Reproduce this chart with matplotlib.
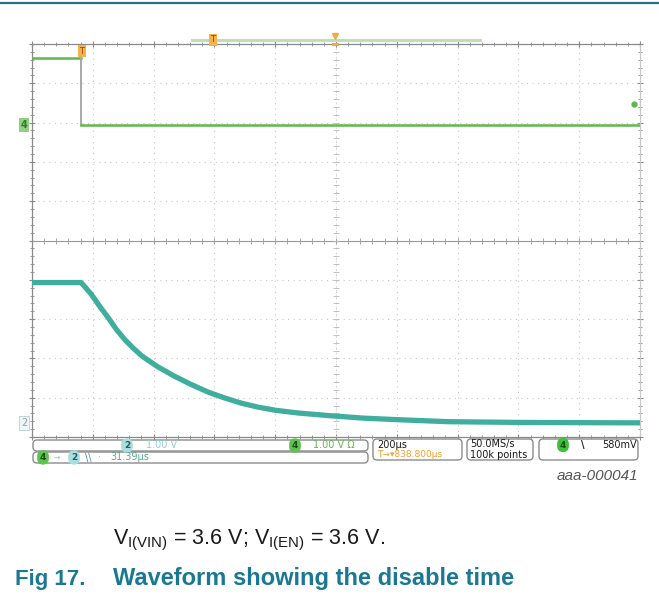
import numpy as np
import matplotlib
matplotlib.use("Agg")
import matplotlib.pyplot as plt
from matplotlib.patches import FancyBboxPatch, Rectangle

# ---------------- data ----------------
time_per_div_us = 200.0
trigger_delay_us = 838.8
ch2_volts_per_div = 1.0
ch4_volts_per_div = 1.0
ch2_offset_div = -4.64     # ground marker position (divisions from centre)
ch4_offset_div = 2.94

# channel 4 (EN) - green
ch4_t_us = [-161.2, 0.0, 0.0, 1838.8]
ch4_v = [1.70, 1.70, 0.0, 0.0]

# channel 2 (VOUT) - cyan, decay after disable
ch2_t_us = [-161.2, -60.0, 0.0, 13.0, 35.0, 62.0, 90.0, 117.0, 145.0, 172.0, 199.0,
            227.0, 254.0, 309.0, 364.0, 419.0, 474.0, 528.0, 582.0, 640.0, 715.0,
            822.0, 930.0, 1043.0, 1207.0, 1450.0, 1838.8]
ch2_v = [3.57, 3.57, 3.57, 3.46, 3.26, 2.96, 2.67, 2.37, 2.11, 1.90, 1.71,
         1.56, 1.42, 1.18, 0.97, 0.78, 0.63, 0.50, 0.40, 0.32, 0.25,
         0.18, 0.12, 0.08, 0.03, 0.01, 0.0]

status_ch2 = "1.00 V"
status_ch4 = "1.00 V \u03a9"
meas_value = "31.39\u00b5s"
timebase_txt = "200\u00b5s"
delay_txt = "838.800\u00b5s"
rate_txt = "50.0MS/s"
points_txt = "100k points"
trig_level_txt = "580mV"
fig_id = "aaa-000041"

W, H = 659, 601
fig = plt.figure(figsize=(W / 100, H / 100), dpi=100)
fig.patch.set_facecolor("white")

def fx(px):
    return px / W

def fy(py):
    return 1 - py / H

# ---------------- scope axes ----------------
L, R, T, B = 32, 640, 44, 437
ax = fig.add_axes([fx(L), fy(B), fx(R - L), (B - T) / H])
center = trigger_delay_us
ax.set_xlim(center - 5 * time_per_div_us, center + 5 * time_per_div_us)
ax.set_ylim(-5, 5)
ax.set_facecolor("white")

major_x = center + time_per_div_us * np.arange(-5, 6)
minor_x = center + time_per_div_us / 5 * np.arange(-25, 26)
ax.set_xticks(major_x)
ax.set_xticks(minor_x, minor=True)
ax.set_yticks(np.arange(-5, 6))
ax.set_yticks(np.arange(-5, 5.01, 0.2), minor=True)
ax.set_xticklabels([])
ax.set_yticklabels([])
ax.tick_params(which="both", direction="inout", top=True, right=True, color="#8a8a8a")
ax.tick_params(which="major", length=5, width=0.8)
ax.tick_params(which="minor", length=3, width=0.6)
ax.grid(which="major", ls=(0, (1, 4)), color="#c8c8c8", lw=0.8)
for s in ax.spines.values():
    s.set_color("#8a8a8a")
    s.set_linewidth(0.9)
ax.spines["right"].set_color("#c8c8c8")

# centre crosshair with minor ticks
ax.axhline(0, color="#9a9a9a", lw=0.8)
ax.axvline(center, color="#dadada", lw=0.6, ls=(0, (2, 3)))
ax.plot(minor_x, np.zeros_like(minor_x), ls="none", marker="|", ms=4, color="#9a9a9a", mew=0.6)
ax.plot(np.full(51, center), np.arange(-5, 5.01, 0.2), ls="none", marker="_", ms=4,
        color="#b8b8b8", mew=0.6)

# traces
ch2_y = np.array(ch2_v) / ch2_volts_per_div + ch2_offset_div
ch4_y = np.array(ch4_v) / ch4_volts_per_div + ch4_offset_div
ax.plot(ch2_t_us, ch2_y, color="#3fae9f", lw=3.8, solid_capstyle="butt",
        solid_joinstyle="round", zorder=5)
ax.plot(ch4_t_us[:2], ch4_y[:2], color="#5db94a", lw=1.8, zorder=6)
ax.plot(ch4_t_us[1:3], ch4_y[1:3], color="#a8a8a8", lw=1.4, zorder=6)
ax.plot(ch4_t_us[2:], ch4_y[2:], color="#5db94a", lw=1.8, zorder=6)

# ---------------- overlay for annotations (pixel coords) ----------------
ov = fig.add_axes([0, 0, 1, 1], facecolor="none")
ov.set_xlim(0, W)
ov.set_ylim(H, 0)
ov.axis("off")

# trigger marker at top of graticule
ov.text(82, 51, "T", ha="center", va="center", fontsize=6, color="#8a4a00",
        bbox=dict(boxstyle="square,pad=0.2", fc="#f6b24a", ec="none"), zorder=7)

# page rule
ov.plot([0, W], [3, 3], color="#2b6e8c", lw=1.6)

# record bar at top
ov.plot([192, 480], [40, 40], color="#bfe0b0", lw=2.2)
ov.text(213, 40, "T", ha="center", va="center", fontsize=6, color="#8a4a00",
        bbox=dict(boxstyle="square,pad=0.2", fc="#f6b24a", ec="none"))
ov.plot([335], [36], marker="v", ms=4, color="#f2a84a", ls="none")
ov.add_patch(Rectangle((332, 43), 7, 3, fc="#f2a84a", ec="none"))

# channel ground markers
ov.text(24, 125, "4", ha="center", va="center", fontsize=7, color="#2f7a2a",
        fontweight="bold",
        bbox=dict(boxstyle="square,pad=0.2", fc="#8fd17f", ec="none"))
ov.text(24, 423, "2", ha="center", va="center", fontsize=7, color="#8aa4b0",
        bbox=dict(boxstyle="square,pad=0.2", fc="#eef6f8", ec="#b8cdd6", lw=0.6))
ov.plot([634], [104], marker="o", ms=3.5, color="#5db94a", ls="none")

# status bar boxes
def box(x0, y0, x1, y1):
    ov.add_patch(FancyBboxPatch((x0, y0), x1 - x0, y1 - y0,
                                boxstyle="round,pad=0,rounding_size=4",
                                fc="white", ec="#8c8c8c", lw=1.0))

box(33, 440, 368, 451)
box(33, 452, 368, 463)
box(373, 439, 462, 460)
box(467, 439, 533, 460)
box(539, 439, 638, 460)

def badge(x, y, txt, fc, tc):
    ov.text(x, y, txt, ha="center", va="center", fontsize=6.5, color=tc, fontweight="bold",
            bbox=dict(boxstyle="round,pad=0.3,rounding_size=0.7", fc=fc, ec="none"))

fs = 7
badge(127, 445.5, "2", "#a9dde0", "#2a5a6a")
ov.text(146, 445.5, status_ch2, ha="left", va="center", fontsize=fs, color="#8fd0d4")
badge(295, 445.5, "4", "#5ec34e", "#1e4a1a")
ov.text(313, 445.5, status_ch4, ha="left", va="center", fontsize=fs, color="#5db94a")

badge(43, 457.5, "4", "#5ec34e", "#1e4a1a")
ov.text(57, 457.5, "\u2192", ha="center", va="center", fontsize=5.5, color="#7fcfd0")
badge(74, 457.5, "2", "#a9dde0", "#2a5a6a")
ov.text(85, 457.5, "\\\\", ha="left", va="center", fontsize=fs, color="#4a8fa0")
ov.text(98, 457.5, "\u00b7", ha="left", va="center", fontsize=fs, color="#7fcfd0")
ov.text(110, 457.5, meas_value, ha="left", va="center", fontsize=fs, color="#5aa88a")

ov.text(377, 445, timebase_txt, ha="left", va="center", fontsize=fs, color="#1a1a1a")
ov.text(377, 454.5, "T\u2192\u25be" + delay_txt, ha="left", va="center", fontsize=6.5,
        color="#f2a030")
ov.text(470, 444.5, rate_txt, ha="left", va="center", fontsize=fs, color="#1a1a1a")
ov.text(470, 454.5, points_txt, ha="left", va="center", fontsize=fs, color="#1a1a1a")
badge(563, 445, "4", "#3fbf3a", "#1e4a1a")
ov.text(583, 445, "\\", ha="center", va="center", fontsize=fs, color="#1a1a1a", fontweight="bold")
ov.text(637, 445, trig_level_txt, ha="right", va="center", fontsize=fs, color="#1a1a1a")

ov.text(638, 476, fig_id, ha="right", va="center", fontsize=11, style="italic",
        color="#555555", family="Liberation Sans")

ov.text(113, 540, r"V$_{\mathregular{I(VIN)}}$ = 3.6 V; V$_{\mathregular{I(EN)}}$ = 3.6 V.",
        ha="left", va="center", fontsize=15.5, color="#1a1a1a", family="Liberation Sans")
ov.text(15, 579, "Fig 17.", ha="left", va="center",
        fontsize=16, fontweight="bold", color="#1b7893", family="Liberation Sans")
ov.text(113, 579, "Waveform showing the disable time", ha="left", va="center",
        fontsize=17, fontweight="bold", color="#1b7893", family="Liberation Sans")

fig.savefig("out.png", dpi=100, facecolor="white")
